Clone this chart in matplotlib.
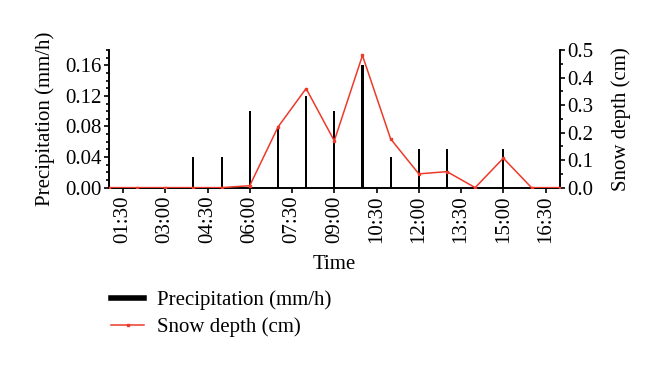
import numpy as np
import matplotlib.pyplot as plt
from matplotlib.lines import Line2D
from matplotlib.ticker import MultipleLocator

plt.rcParams['font.family'] = ['Liberation Serif', 'DejaVu Serif']

# hourly observations, 01:00 .. 17:00
hours = [1, 2, 3, 4, 5, 6, 7, 8, 9, 10, 11, 12, 13, 14, 15, 16, 17]
precip = [0, 0, 0, 0.04, 0.04, 0.10, 0.08, 0.12, 0.10, 0.16, 0.04, 0.05, 0.05, 0, 0.05, 0, 0]
snow = [0, 0, 0, 0, 0, 0.007, 0.22, 0.36, 0.17, 0.48, 0.177, 0.05, 0.058, 0, 0.107, 0, 0]

tick_hours = [1.5, 3, 4.5, 6, 7.5, 9, 10.5, 12, 13.5, 15, 16.5]
tick_labels = ["01:30", "03:00", "04:30", "06:00", "07:30", "09:00",
               "10:30", "12:00", "13:30", "15:00", "16:30"]

fs = 15
red = "#ee3a2a"
fig = plt.figure(figsize=(6.6, 3.73), dpi=100)
ax1 = fig.add_axes([0.165, 0.497, 0.683, 0.369])
ax2 = ax1.twinx()

ax1.bar(hours, precip, width=0.075, color="black", zorder=2)
ax2.plot(hours, snow, color=red, lw=1.1, marker="s", ms=1.6, zorder=3)

ax1.set_xlim(1, 17)
ax1.set_ylim(0, 0.18)
ax2.set_ylim(0, 0.5)
ax1.set_xticks(tick_hours)
ax1.set_xticklabels(tick_labels, rotation=90, fontsize=fs)
ax1.set_yticks([0, 0.04, 0.08, 0.12, 0.16])
ax1.set_yticklabels(["0.00", "0.04", "0.08", "0.12", "0.16"], fontsize=fs)
ax1.yaxis.set_minor_locator(MultipleLocator(0.01))
ax2.set_yticks([0, 0.1, 0.2, 0.3, 0.4, 0.5])
ax2.set_yticklabels(["0.0", "0.1", "0.2", "0.3", "0.4", "0.5"], fontsize=fs)
ax2.yaxis.set_minor_locator(MultipleLocator(0.05))

for a in (ax1, ax2):
    a.spines["top"].set_visible(False)
    a.tick_params(which="both", direction="out", width=1.2, length=3.5, pad=2)
    a.tick_params(which="minor", length=2.5)
    for s in a.spines.values():
        s.set_linewidth(1.2)

ax1.set_xlabel("Time", fontsize=fs, labelpad=9)
ax1.set_ylabel("Precipitation (mm/h)", fontsize=fs, labelpad=7)
ax2.set_ylabel("Snow depth (cm)", fontsize=fs, labelpad=13)

handles = [Line2D([], [], color="black", lw=4),
           Line2D([], [], color=red, lw=1.1, marker="s", ms=1.6)]
fig.legend(handles, ["Precipitation (mm/h)", "Snow depth (cm)"],
           loc="upper left", bbox_to_anchor=(0.14, 0.272), frameon=False,
           fontsize=fs, handlelength=1.6, labelspacing=0.35, handletextpad=0.6)

fig.savefig("out.png", dpi=100)
